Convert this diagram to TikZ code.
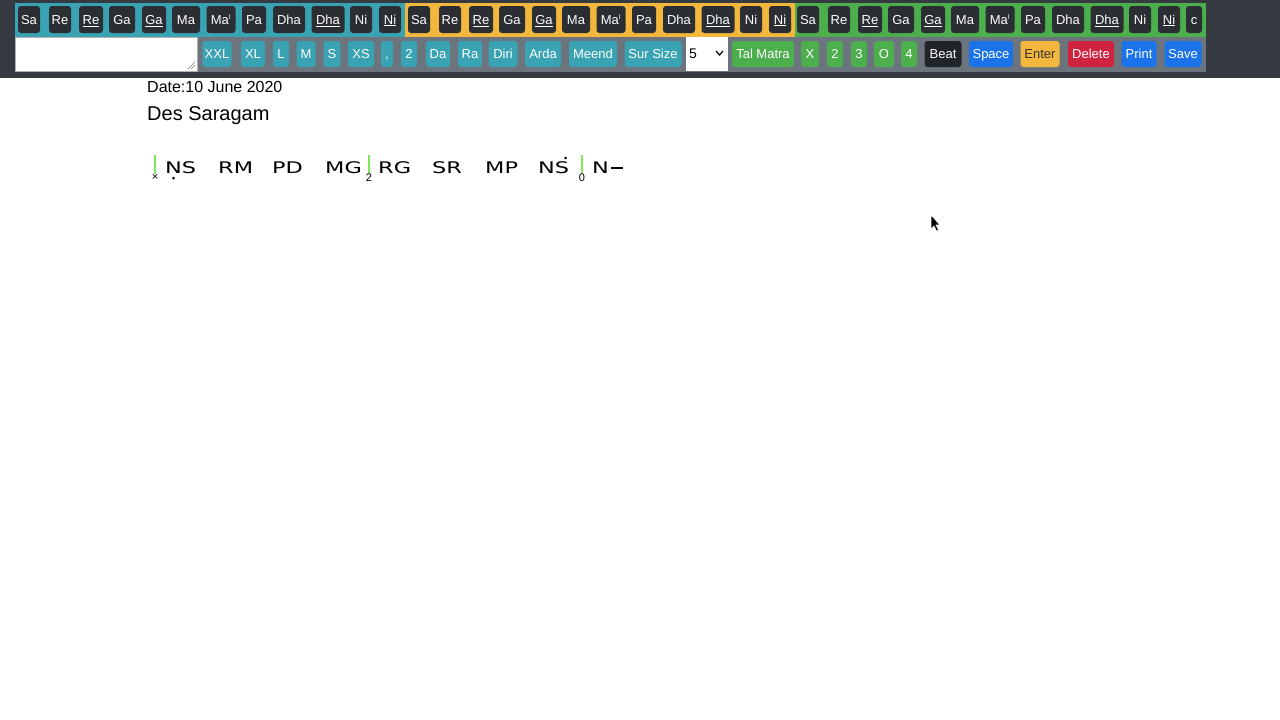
\documentclass[tikz,border=0pt]{standalone}
\usepackage{fontspec}
\usepackage{graphicx}
\setmainfont{Liberation Sans}
\newfontfamily\notefont{DejaVu Sans}
\definecolor{bardark}{HTML}{343A40}
\definecolor{tealp}{HTML}{3AA3B3}
\definecolor{yellowp}{HTML}{F3B73D}
\definecolor{greenp}{HTML}{4CAE4C}
\definecolor{grayp}{HTML}{6C757D}
\definecolor{btndark}{HTML}{2B2F33}
\definecolor{btnteal}{HTML}{3AA3B3}
\definecolor{btngreen}{HTML}{4CAE4C}
\definecolor{btnblue}{HTML}{1A73E8}
\definecolor{btnyellow}{HTML}{F3B73D}
\definecolor{btnred}{HTML}{D0233F}
\definecolor{btnblack}{HTML}{212529}
\definecolor{barline}{HTML}{7CE85A}
\newcommand{\commasym}{,}
\newcommand{\wide}[1]{\scalebox{1.4}[1]{#1}}
\newcommand{\ndash}{\hspace{0.08em}\rule[0.3em]{0.55em}{1.6pt}}
\begin{document}
\begin{tikzpicture}[x=1pt,y=-1pt,
  btn/.style={rounded corners=3pt,inner sep=0pt,minimum height=27pt,text=white,text height=9.4pt,text depth=0pt,font=\fontsize{13}{13}\selectfont},
  sbtn/.style={btn,minimum height=26pt}]
\useasboundingbox (0,0) rectangle (1280,720);
\fill[white] (0,0) rectangle (1280,720);
\fill[bardark] (0,0) rectangle (1280,78);
\fill[tealp] (15,3) rectangle (405,37);
\fill[yellowp] (405,3) rectangle (795,37);
\fill[greenp] (795,3) rectangle (1206,37);
\fill[grayp] (197,37) rectangle (1206,72);
\node[draw=gray!60,fill=white,minimum width=182pt,minimum height=34pt,inner sep=0pt] (ta) at (106,54) {};
\draw[gray] (188,69) -- (195,62) (191,69) -- (195,65);
% top row
\foreach \off/\g in {0/a,390/b,779/c}{
 \foreach \cx/\w/\t/\i in {29/22/Sa/1,60/22/Re/2,91/24/\underline{Re}/3,122/26/Ga/4,154/24/\underline{Ga}/5,186/28/Ma/6,221/29/Ma\textsuperscript{\fontsize{7}{7}\selectfont I}/7,254/24/Pa/8,289/32/Dha/9,328/33/\underline{Dha}/10,361/22/Ni/11,390/22/\underline{Ni}/12}{
  \node[btn,fill=btndark,minimum width=\w pt] (t\g\i) at (\cx+\off,19.5) {\t};
 }}
\node[btn,fill=btndark,minimum width=16pt] (tc) at (1194,19.5) {c};
% second row
\foreach \cx/\w/\t/\c/\i in {217/29/XXL/btnteal/1,253/24/XL/btnteal/2,281/16/L/btnteal/3,306/19/M/btnteal/4,332/17/S/btnteal/5,361/26/XS/btnteal/6,387/12/\commasym/btnteal/7,409/16/2/btnteal/8,438/24/Da/btnteal/9,470/24/Ra/btnteal/10,503/29/Diri/btnteal/11,543/36/Arda/btnteal/12,593/48/Meend/btnteal/13,653/57/Sur Size/btnteal/14,763/62/Tal Matra/btngreen/15,810/18/X/btngreen/16,835/16/2/btngreen/17,859/16/3/btngreen/18,884/20/O/btngreen/19,909/16/4/btngreen/20,943/37/Beat/btnblack/21,991/44/Space/btnblue/22,1091/46/Delete/btnred/24,1139/35/Print/btnblue/25,1183/37/Save/btnblue/26}{
 \node[sbtn,fill=\c,minimum width=\w pt] (b\i) at (\cx,54) {\t};
}
\node[sbtn,fill=btnyellow,minimum width=39pt,text=black!80] (b23) at (1040,54) {Enter};
\node[fill=white,minimum width=42pt,minimum height=34pt,inner sep=0pt] (sel) at (707,54) {};
\node[anchor=west,inner sep=0pt,font=\fontsize{14}{14}\selectfont] (selv) at (689,54) {5};
\draw[line width=1.2pt] (716,51) -- (719.5,55) -- (723,51);
% text
\node[anchor=west,inner sep=0pt,font=\fontsize{16}{16}\selectfont] (date) at (147,87) {Date:10 June 2020};
\node[anchor=west,inner sep=0pt,font=\fontsize{20}{20}\selectfont] (title) at (147,116) {Des Saragam};
% notation
\foreach \x/\s/\i in {155/×/1,369/2/2,582/0/3}{
 \draw[barline,line width=2pt] (\x,155) -- (\x,174);
 \node[inner sep=0pt,font=\fontsize{11}{11}\selectfont] (sub\i) at (\x,177.5) {\s};
}
\foreach \x/\t/\i in {165/NS/1,218/RM/2,272/PD/3,325/MG/4,378/RG/5,432/SR/6,485/MP/7,538/NS/8,592/N\ndash/9}{
 \node[anchor=west,inner sep=0pt,font=\notefont\fontsize{16}{16}\selectfont] (n\i) at (\x,167.5) {\wide{\t}};
}
\fill (173.5,178) circle (1.5pt);
\fill (565.5,158) circle (1.5pt);
% cursor
\draw[fill=black,draw=white,line width=0.6pt] (931,215) -- (931,229) -- (934,226) -- (936.5,231) -- (938.5,230) -- (936,225) -- (940,225) -- cycle;
\end{tikzpicture}
\end{document}
